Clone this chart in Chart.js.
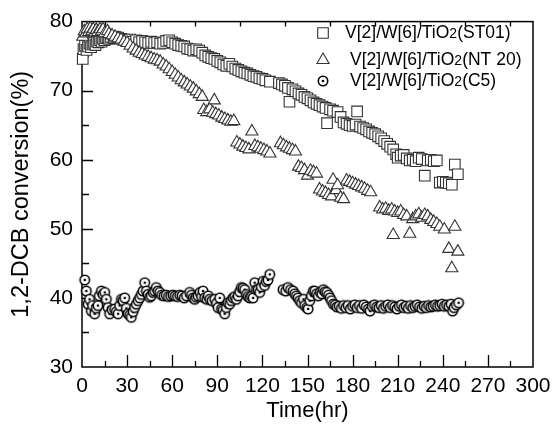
<!DOCTYPE html>
<html>
<head>
<meta charset="utf-8">
<script src="https://cdn.jsdelivr.net/npm/chart.js@4/dist/chart.umd.min.js"></script>
<style>
  html, body { margin: 0; padding: 0; background: #fff; }
  canvas { display: block; }
</style>
</head>
<body>
<canvas id="c" width="560" height="433" style="width:560px;height:433px"></canvas>
<script>
// ---- data ----
const seriesNames = ['V[2]/W[6]/TiO|2|(ST01)', 'V[2]/W[6]/TiO|2|(NT 20)', 'V[2]/W[6]/TiO|2|(C5)'];

const st01Time = [0.5,1,2,3,4,5,6,7,8,9,10,11,12,13,14,15,16,17,18,19,21,22,24,26,28,30,32,34,36,38,40,42,44,46,48,50,52,54,56,58,60,62,64,66,68,70,72,74,76,78,80,82,84,86,88,90,92,94,96,98,100,102,104,106,108,110,112,114,116,118,120,122,125,131,133,135,137,138,140,142,144,146,148,150,152,154,156,158,160,162,163,165,167,170,172,174,176,178,180,182,183,185,187,189,191,193,195,197,199,201,203,205,207,209,210,212,214,216,218,220,222,224,226,228,230,232,234,236,238,240,242,244,246,248,250];
const st01Conv = [74.6,76.0,76.5,75.9,76.4,76.8,76.3,76.7,76.9,76.6,77.1,77.0,77.3,77.1,77.5,77.3,77.6,77.7,77.5,77.8,77.6,77.8,77.7,77.5,77.4,77.2,77.4,77.1,77.3,77.0,77.2,77.0,76.9,77.1,76.9,77.0,76.8,76.9,77.2,77.3,77.0,76.8,76.6,76.5,76.4,76.1,76.0,75.8,76.0,75.8,75.5,75.1,74.9,74.7,74.6,74.3,74.1,73.8,73.6,73.9,73.5,73.2,73.0,72.8,72.6,72.5,72.3,72.1,72.0,71.8,71.7,71.5,71.3,71.1,70.9,70.7,70.4,68.4,70.2,69.9,69.6,69.4,69.1,68.9,68.6,68.3,68.1,67.9,67.7,67.5,65.3,67.3,67.1,66.9,66.2,65.4,65.2,65.0,64.9,65.1,67.0,64.8,64.6,64.4,64.1,63.9,63.7,63.4,63.1,62.7,62.3,61.9,61.5,60.8,60.3,60.6,60.7,60.2,59.9,60.0,59.8,60.3,60.1,57.7,59.9,60.0,59.8,59.9,56.7,56.8,56.7,56.6,56.4,59.3,57.9];

const nt20Time = [0.5,1.5,2.5,3.5,4.5,5.5,6.5,7.5,8.5,9.5,10.5,12,13,14,15,17,18,20,22,24,26,28,30,32,34,36,38,40,42,44,46,48,50,52,54,56,58,60,62,64,66,68,70,72,74,76,78,80,81,83,85,87,88,89,91,93,95,97,99,101,103,105,107,109,111,113,115,117,119,121,123,125,132,134,136,138,140,142,144,146,148,150,152,154,156,158,160,162,164,166,167,169,170,172,174,176,178,180,182,184,186,188,190,192,198,200,202,204,206,207,208,210,212,214,216,218,220,222,224,226,228,230,232,234,236,238,241,244,246,248,250];
const nt20Conv = [77.8,78.6,78.3,78.9,78.5,79.0,78.6,78.9,78.4,78.8,78.5,78.9,78.6,78.9,78.3,78.6,78.2,78.0,77.8,77.6,77.4,77.1,76.9,76.5,76.1,75.8,75.5,75.3,75.1,74.9,74.7,74.5,74.4,74.2,73.8,73.5,73.1,72.7,72.3,71.9,71.5,71.2,70.9,70.6,70.3,69.9,69.5,69.1,67.2,66.9,67.3,66.8,68.6,66.6,66.4,66.1,65.9,65.7,65.5,65.6,62.5,62.2,61.9,61.7,61.5,64.1,62.0,61.8,61.6,61.4,61.2,60.9,62.4,62.1,61.8,61.6,61.4,61.2,59.0,58.8,58.5,57.7,58.4,58.2,58.0,55.7,55.4,55.2,54.9,54.7,57.1,55.6,56.3,54.5,54.3,57.0,56.8,56.6,56.4,56.2,56.0,55.8,55.5,55.3,53.1,52.8,52.9,52.6,52.8,49.1,52.5,52.3,52.5,52.0,51.8,49.3,51.4,51.8,52.1,51.6,52.0,51.8,51.3,51.0,50.7,50.3,49.9,47.1,44.3,50.3,46.7];

const c5Time = [1.8,2.9,4,5,6.2,7,8.4,9.5,10.6,11.5,12.9,14,15.1,16.2,17.3,18.4,20,21.7,22.8,24,25,26.2,27.3,28.4,29.5,30.6,31.7,32.8,34,35,36.1,37.3,38.4,39.5,40.6,41.7,42.8,43.9,45,46.1,47.3,48.3,49.4,50.5,51.7,53,54.5,56,57.5,59,60.5,62,63.5,65,66.5,68,69.5,71.6,72.8,73.9,75,76,77.2,78.5,79.5,80.5,81.6,83,84,85,86.5,88.3,89.5,90.5,91.6,92.8,93.8,94.9,96,97,98.2,99.3,100.5,101.6,102.7,103.8,104.9,106,107.1,108.2,109.4,110.5,111.6,112.7,113.8,114.9,116,117.1,118.2,119.3,120.4,121.5,122.6,123.7,124.9,133.7,135.5,137,138.7,140.4,141.5,142.6,143.7,144.8,146,147.3,148.1,149.5,150.4,151.5,152.6,153.9,154.8,156,157.2,158.5,159.5,160.6,161.7,162.8,164,165,166,167.2,168.5,169.5,171,172.5,174,175.5,177,178.5,180,181.5,183,184.5,186,187.5,189,190.5,191.6,193,194.5,196,197.5,199,200.5,202,203.5,205,206.5,208,209.5,211,212.5,214,215.5,217,218.5,220,221.5,223,224.5,226,227.5,229,230.5,232,233.5,235,236.5,238,239.5,241,242.5,244,245.5,246.5,247.5,249,250.5];
const c5Conv = [42.6,41.0,39.1,39.8,38.1,38.9,37.7,38.5,38.9,40.3,41.0,40.5,40.8,39.8,38.6,37.7,38.3,38.4,38.0,37.7,38.9,39.8,39.6,40.0,38.5,37.7,37.5,37.2,38.0,38.6,39.1,39.6,40.0,40.5,41.0,42.2,41.0,40.5,40.1,40.3,40.8,41.0,41.5,41.0,40.8,40.4,40.3,40.4,40.2,40.3,40.4,40.3,40.2,40.4,40.3,40.0,40.3,40.8,40.4,40.0,39.8,40.1,40.3,40.8,40.2,41.0,40.0,39.8,40.3,39.8,39.6,39.8,39.2,38.6,40.0,38.4,38.2,37.7,38.6,39.3,39.1,39.6,40.0,40.2,39.8,40.3,40.9,41.5,41.4,41.2,40.5,40.2,40.0,40.2,40.0,42.2,41.2,41.2,40.8,41.6,42.4,41.8,42.4,42.6,43.4,41.2,41.0,41.5,41.2,41.0,40.6,40.3,40.0,39.6,39.3,39.8,38.9,38.6,38.4,39.6,40.3,41.0,41.0,40.6,40.3,40.8,40.6,41.2,40.9,40.8,40.4,40.0,39.6,39.1,39.0,38.7,38.8,38.5,38.9,38.6,38.9,38.4,38.8,39.0,38.6,38.9,38.5,39.0,38.7,38.4,38.1,38.8,39.0,38.7,38.6,38.9,38.5,38.8,39.0,38.6,38.9,38.7,38.4,38.8,39.0,38.6,38.8,38.5,38.9,38.6,38.8,39.0,38.7,38.5,38.8,38.6,38.9,38.7,38.8,39.0,38.8,38.9,39.1,38.8,39.0,38.8,39.1,38.1,38.6,39.0,39.3];

const xTicks = [0,30,60,90,120,150,180,210,240,270,300];
const yTicks = [30,40,50,60,70,80];

// ---- marker for C5 (ring with centre dot) ----
function dotRing() {
  const c = document.createElement('canvas');
  c.width = 14; c.height = 14;
  const g = c.getContext('2d');
  g.beginPath(); g.arc(7, 7, 4.7, 0, Math.PI * 2);
  g.fillStyle = '#fff'; g.fill();
  g.lineWidth = 1.6; g.strokeStyle = '#000'; g.stroke();
  g.beginPath(); g.arc(7, 7, 1.3, 0, Math.PI * 2);
  g.fillStyle = '#000'; g.fill();
  return c;
}
const ringImg = dotRing();

function pts(t, v) { return t.map((x, i) => ({ x: x, y: v[i] })); }

const FONT = "'Liberation Sans', Arial, sans-serif";

const frameTicks = {
  id: 'frameTicks',
  beforeDatasetsDraw(chart) {
    const { ctx, chartArea: a, scales } = chart;
    const xs = scales.x, ys = scales.y;
    ctx.save();
    ctx.strokeStyle = '#000';
    ctx.lineWidth = 1.5;
    ctx.strokeRect(a.left, a.top, a.right - a.left, a.bottom - a.top);
    ctx.lineWidth = 1.3;
    ctx.beginPath();
    for (let t = 15; t < 300; t += 15) {
      const px = Math.round(xs.getPixelForValue(t)) + 0.5;
      const len = (t % 30 === 0) ? 12 : 6;
      ctx.moveTo(px, a.bottom); ctx.lineTo(px, a.bottom - len);
    }
    for (let t = 15; t < 300; t += 30) {
      const px = Math.round(xs.getPixelForValue(t)) + 0.5;
      ctx.moveTo(px, a.top); ctx.lineTo(px, a.top + 5);
    }
    for (let v = 35; v < 80; v += 5) {
      const py = Math.round(ys.getPixelForValue(v)) + 0.5;
      const len = (v % 10 === 0) ? 11 : 7;
      ctx.moveTo(a.left, py); ctx.lineTo(a.left + len, py);
    }
    ctx.stroke();
    ctx.restore();
  },
  afterDraw(chart) {
    const { ctx } = chart;
    const rows = [
      { y: 33, sx: 323, tx: 345, style: 'rect' },
      { y: 60, sx: 323, tx: 350, style: 'triangle' },
      { y: 81, sx: 323, tx: 350, style: 'ring' }
    ];
    ctx.save();
    rows.forEach((r, i) => {
      if (r.style === 'ring') {
        ctx.drawImage(ringImg, r.sx - 7, r.y - 7);
      } else {
        ctx.fillStyle = '#fff';
        ctx.strokeStyle = '#333';
        ctx.lineWidth = 1.1;
        Chart.helpers.drawPoint(ctx, { pointStyle: r.style, radius: r.style === 'rect' ? 7.5 : 7, rotation: 0, borderWidth: 1.1 }, r.sx, r.y);
      }
      const parts = seriesNames[i].split('|');
      let x = r.tx;
      ctx.fillStyle = '#000';
      ctx.textBaseline = 'middle';
      ctx.textAlign = 'left';
      ctx.font = '17.5px ' + FONT;
      ctx.fillText(parts[0], x, r.y); x += ctx.measureText(parts[0]).width;
      ctx.font = '14px ' + FONT;
      ctx.fillText(parts[1], x, r.y + 1); x += ctx.measureText(parts[1]).width;
      ctx.font = '17.5px ' + FONT;
      ctx.fillText(parts[2], x, r.y);
    });
    ctx.restore();
  }
};

new Chart(document.getElementById('c'), {
  type: 'scatter',
  data: {
    datasets: [
      { label: 'C5', data: pts(c5Time, c5Conv), pointStyle: ringImg, pointRadius: 5, clip: false, order: 3 },
      { label: 'NT 20', data: pts(nt20Time, nt20Conv), pointStyle: 'triangle', pointRadius: 7,
        backgroundColor: '#fff', borderColor: '#333', borderWidth: 1.1, clip: false, order: 1 },
      { label: 'ST01', data: pts(st01Time, st01Conv), pointStyle: 'rect', pointRadius: 7.5,
        backgroundColor: '#fff', borderColor: '#333', borderWidth: 1.1, clip: false, order: 2 }
    ]
  },
  options: {
    responsive: false,
    animation: false,
    devicePixelRatio: 1,
    layout: { padding: { left: 0, right: 27, top: 17, bottom: 0 } },
    plugins: { legend: { display: false }, tooltip: { enabled: false } },
    elements: { point: { hoverRadius: 7 } },
    scales: {
      x: {
        type: 'linear', min: 0, max: 300,
        afterBuildTicks: s => { s.ticks = xTicks.map(v => ({ value: v })); },
        ticks: { color: '#000', font: { size: 21, family: FONT }, padding: 7, maxRotation: 0, autoSkip: false },
        grid: { display: false, drawTicks: false },
        border: { display: false },
        title: { display: true, text: 'Time(hr)', color: '#000', font: { size: 22, family: FONT }, padding: { top: 0, bottom: 9 } },
        afterFit: s => { s.height = 66; }
      },
      y: {
        type: 'linear', min: 30, max: 80,
        afterBuildTicks: s => { s.ticks = yTicks.map(v => ({ value: v })); },
        ticks: { color: '#000', font: { size: 21, family: FONT }, padding: 9 },
        grid: { display: false, drawTicks: false },
        border: { display: false },
        title: { display: true, text: '1,2-DCB conversion(%)', color: '#000', font: { size: 23.5, family: FONT }, padding: { top: 7, bottom: 0 } },
        afterFit: s => { s.width = 82; }
      }
    }
  },
  plugins: [frameTicks]
});
</script>
</body>
</html>
